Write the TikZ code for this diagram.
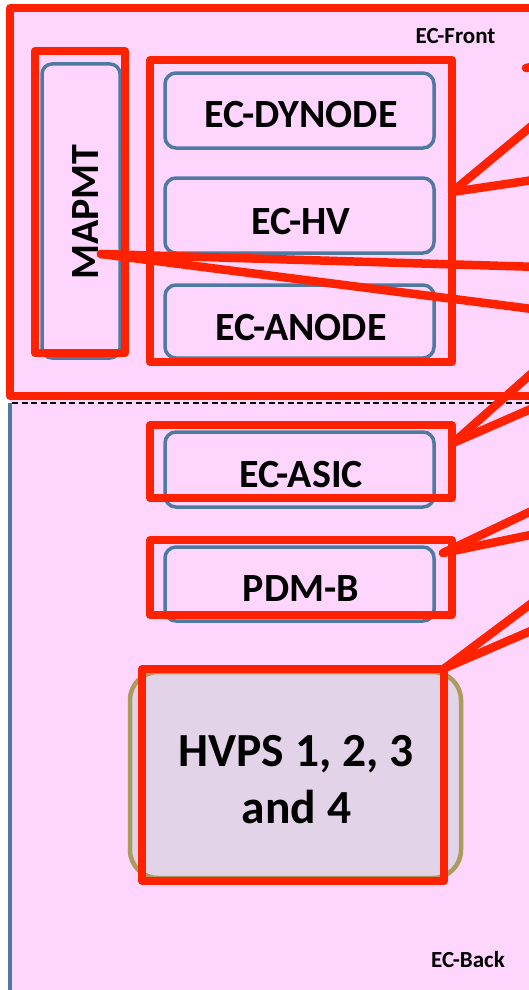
\documentclass[tikz,border=0pt]{standalone}
\usepackage{fontspec}
\setmainfont{Carlito}
\definecolor{bgpink}{RGB}{253,213,253}
\definecolor{rd}{RGB}{255,34,0}
\definecolor{bl}{RGB}{78,121,163}
\definecolor{ol}{RGB}{170,155,95}
\definecolor{lav}{RGB}{226,211,232}
\begin{document}
\begin{tikzpicture}[x=1pt,y=-1pt,
  bluebox/.style={draw=bl, line width=3.5pt, rounded corners=11pt, inner sep=0pt, outer sep=0pt, minimum width=269pt},
  redbox/.style={draw=rd, line width=8pt, line join=round, inner sep=0pt, outer sep=0pt},
  redline/.style={draw=rd, line width=8.5pt, line cap=round},
  lbl/.style={font=\bfseries\fontsize{40}{48}\selectfont, anchor=base, inner sep=0pt},
  small/.style={font=\bfseries\fontsize{23}{28}\selectfont, anchor=base, inner sep=0pt}]
\useasboundingbox (0,0) rectangle (529,990);
\clip (0,0) rectangle (529,990);
% background
\fill[bgpink] (10,8) rectangle (620,1000);
\draw[bl, line width=3.5pt] (10,403) -- (10,1000);
\draw[black, line width=1.5pt, dash pattern=on 6pt off 3.5pt] (12,403) -- (529,403);
% blue boxes
\node[bluebox, minimum width=78pt, minimum height=294pt, rounded corners=10pt] (mapmtB) at (81,211) {};
\node[bluebox, minimum height=75pt] (dynB) at (299.5,110.5) {};
\node[bluebox, minimum height=75pt] (hvB) at (299.5,215.5) {};
\node[bluebox, minimum height=73pt] (anB) at (299.5,321.5) {};
\node[bluebox, minimum height=75pt] (asicB) at (299.5,469.5) {};
\node[bluebox, minimum height=74pt] (pdmB) at (299.5,584) {};
\node[draw=ol, fill=lav, line width=4.5pt, rounded corners=28pt, inner sep=0pt, minimum width=331pt, minimum height=206pt] (hvpsB) at (295.5,775) {};
% labels
\node[small] (front) at (455.5,44) {EC-Front};
\node[small] (back) at (468,967) {EC-Back};
\node[lbl, rotate=90] (mapmtT) at (98,212) {MAPMT};
\node[lbl] (dynT) at (301,127.5) {EC-DYNODE};
\node[lbl] (hvT) at (301,234) {EC-HV};
\node[lbl] (anT) at (301,340) {EC-ANODE};
\node[lbl] (asicT) at (301,487) {EC-ASIC};
\node[lbl] (pdmT) at (301,601.5) {PDM-B};
\node[font=\bfseries\fontsize{47.5}{57}\selectfont, anchor=base, inner sep=0pt, align=center] (hvpsT1) at (296,766) {HVPS 1, 2, 3};
\node[font=\bfseries\fontsize{47.5}{57}\selectfont, anchor=base, inner sep=0pt] (hvpsT2) at (296.5,823) {and 4};
% red boxes
\node[redbox, minimum width=600pt, minimum height=388pt] (outerR) at (310,202) {};
\node[redbox, minimum width=90pt, minimum height=302pt] (mapmtR) at (80,202) {};
\node[redbox, minimum width=302pt, minimum height=302pt] (grpR) at (301,211) {};
\node[redbox, minimum width=302pt, minimum height=73pt] (asicR) at (301,461.5) {};
\node[redbox, minimum width=302pt, minimum height=75pt] (pdmR) at (301,577.5) {};
\node[redbox, minimum width=302pt, minimum height=212pt] (hvpsR) at (293,775) {};
% connector start points
\coordinate (sGrp) at (452,192);
\coordinate (sMap) at (101,254);
\coordinate (sAsic) at (453,443);
\coordinate (sPdm) at (443,553);
\coordinate (sHvps) at (445,668);
\coordinate (sTop) at (526,68);
% free ends beyond the right edge
\coordinate (e0) at (560,62);
\coordinate (e1) at (540,119);
\coordinate (e2) at (540,179);
\coordinate (e3) at (540,267);
\coordinate (e4) at (540,310);
\coordinate (e5) at (540,366);
\coordinate (e6) at (540,405);
\coordinate (e7) at (540,507);
\coordinate (e8) at (540,533);
\coordinate (e9) at (540,597);
\coordinate (e10) at (540,627);
% connectors
\draw[redline] (sTop) -- (e0);
\draw[redline] (sGrp) -- (e1);
\draw[redline] (sGrp) -- (e2);
\draw[redline] (sMap) -- (e3);
\draw[redline] (sMap) -- (e4);
\draw[redline] (sAsic) -- (e5);
\draw[redline] (sAsic) -- (e6);
\draw[redline] (sPdm) -- (e7);
\draw[redline] (sPdm) -- (e8);
\draw[redline] (sHvps) -- (e9);
\draw[redline] (sHvps) -- (e10);
\end{tikzpicture}
\end{document}
